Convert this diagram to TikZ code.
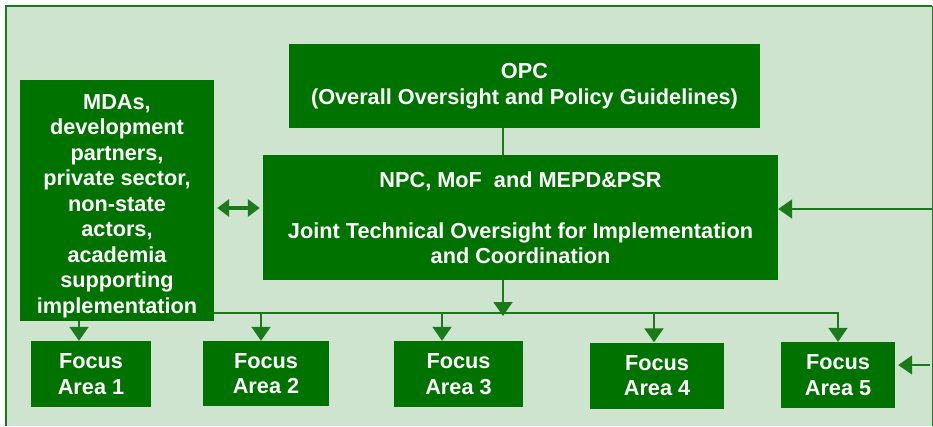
\documentclass[tikz,border=0pt]{standalone}
\usepackage{fontspec}
\setmainfont{Liberation Sans}
\usetikzlibrary{arrows.meta}
\definecolor{boxgreen}{RGB}{0,114,0}
\definecolor{linegreen}{RGB}{24,122,24}
\definecolor{palegreen}{RGB}{207,228,207}

\begin{document}
\begin{tikzpicture}[x=1pt, y=-1pt,
  box/.style = {fill=boxgreen, text=white, inner sep=0pt, align=center,
    font=\fontsize{21.7}{25.5}\selectfont\bfseries},
  arr/.style = {draw=linegreen, line width=2pt, -{Triangle[width=19pt,length=14pt]}},
  dbl/.style = {draw=linegreen, line width=4pt,
    {Triangle[width=17pt,length=12pt]}-{Triangle[width=17pt,length=12pt]}}]
\useasboundingbox (0,0) rectangle (933,426);
\fill[palegreen] (6,6) rectangle (933,426);
\draw[linegreen, line width=2.5pt] (6,426) -- (6,6) -- (932,6);
\draw[linegreen, line width=1pt] (932,6) -- (932,426);
\node[box, minimum width=471pt, minimum height=84pt] (opc) at (524.5,86) {OPC\\(Overall Oversight and Policy Guidelines)};
\node[box, minimum width=515pt, minimum height=125pt] (npc) at (520.5,217.5) {NPC, MoF\ \ and MEPD\&PSR\\[25.5pt]Joint Technical Oversight for Implementation\\and Coordination};
\node[box, minimum width=194pt, minimum height=241pt] (mda) at (117,200.5) {\rule{0pt}{25.6pt}MDAs,\\development\\partners,\\private sector,\\non-state\\actors,\\academia\\supporting\\implementation};
\node[box, minimum width=120pt, minimum height=66pt] (f1) at (91,374) {Focus\\Area 1};
\node[box, minimum width=126pt, minimum height=65pt] (f2) at (266,373.5) {Focus\\Area 2};
\node[box, minimum width=129pt, minimum height=66pt] (f3) at (458.5,374) {Focus\\Area 3};
\node[box, minimum width=134pt, minimum height=66pt] (f4) at (657,375.5) {Focus\\Area 4};
\node[box, minimum width=114pt, minimum height=66pt] (f5) at (838,375) {Focus\\Area 5};
\coordinate (bus) at (503,313);
\coordinate (mid) at (238,208);
\coordinate (b1) at (79,321);
\coordinate (b2) at (261,313);
\coordinate (b3) at (442,313);
\coordinate (b4) at (654,313);
\coordinate (r1) at (932,209);
\coordinate (r2) at (930,365);
\draw[linegreen, line width=2pt] (opc.south -| bus) -- (npc.north -| bus);
\draw[dbl, shorten <=3pt, shorten >=3pt] (mid -| mda.east) -- (mid -| npc.west);
\draw[arr] (npc.south -| bus) -- ([yshift=-3pt]bus);
\draw[arr] (mda.east |- bus) -| (f5.north);
\draw[arr] (b1) -- (b1 |- f1.north);
\draw[arr] (b2) -- (b2 |- f2.north);
\draw[arr] (b3) -- (b3 |- f3.north);
\draw[arr] (b4) -- (b4 |- f4.north);
\draw[arr] (r1) -- (r1 -| npc.east);
\draw[arr, shorten >=3pt] (r2) -- (r2 -| f5.east);
\end{tikzpicture}
\end{document}
